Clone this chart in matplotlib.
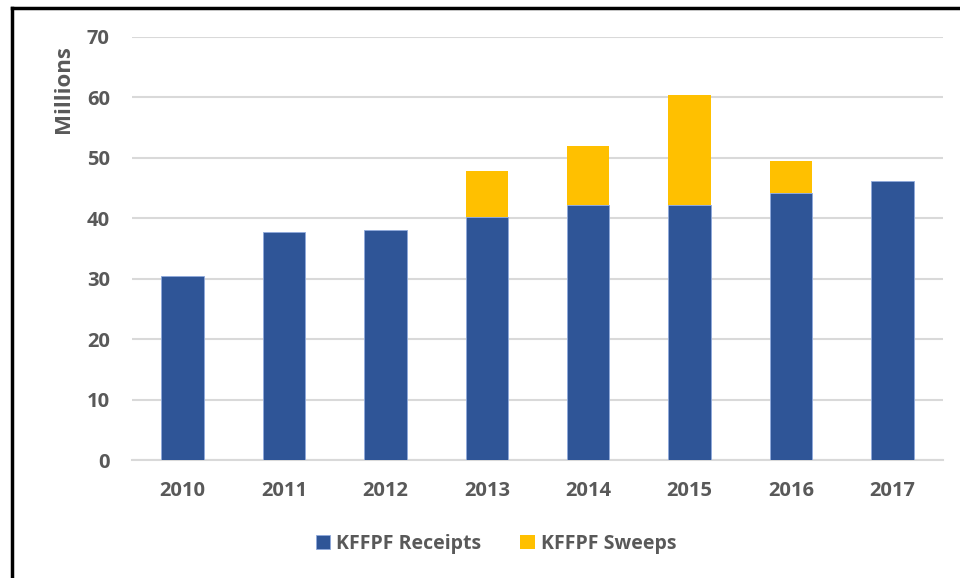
import matplotlib
matplotlib.use("Agg")
import matplotlib.pyplot as plt
from matplotlib.lines import Line2D
import numpy as np

years = ["2010", "2011", "2012", "2013", "2014", "2015", "2016", "2017"]
receipts = [30.4, 37.7, 38.0, 40.2, 42.2, 42.2, 44.2, 46.1]
sweeps = [0.0, 0.0, 0.0, 7.6, 9.7, 18.2, 5.3, 0.0]
yticks = [0, 10, 20, 30, 40, 50, 60, 70]

plt.rcParams['font.family'] = ['Open Sans', 'DejaVu Sans']
txt = '#595959'
blue = '#2F5597'
yellow = '#FFC000'

fig = plt.figure(figsize=(9.6, 5.78), dpi=100)
ax = fig.add_axes([132/960, 1-460/578, (943-132)/960, (460-37)/578])

x = np.arange(len(years))
w = 0.42
ax.bar(x, receipts, width=w, color=blue, edgecolor='#8FAADC', linewidth=0.6, label='KFFPF Receipts', zorder=3)
ax.bar(x, sweeps, width=w, bottom=receipts, color=yellow, linewidth=0, label='KFFPF Sweeps', zorder=3)

ax.set_xlim(-0.5, len(years)-0.5)
ax.set_ylim(0, 70)
ax.set_yticks(yticks)
ax.set_xticks(x)
ax.set_xticklabels(years)
ax.grid(axis='y', color='#d9d9d9', linewidth=1.5, zorder=0)
for s in ['top', 'right', 'left']:
    ax.spines[s].set_visible(False)
ax.spines['bottom'].set_color('#d9d9d9')
ax.spines['bottom'].set_linewidth(1.5)
ax.tick_params(axis='both', length=0, labelsize=14.5, labelcolor=txt)
ax.tick_params(axis='x', pad=15)
ax.tick_params(axis='y', pad=16)
for lab in ax.get_xticklabels() + ax.get_yticklabels():
    lab.set_fontweight('bold')

ax.set_ylabel('Millions', fontsize=16, fontweight='bold', color=txt)
ax.yaxis.set_label_coords(-0.072, 0.876)

leg = fig.legend(loc='center', bbox_to_anchor=(496/960, 1-544/578), ncol=2, frameon=False,
                 prop={'size': 14, 'weight': 'bold'}, handlelength=0.75, handleheight=0.75,
                 columnspacing=2.0, handletextpad=0.3)
for t in leg.get_texts():
    t.set_color(txt)

# outer frame lines (left and top)
fig.add_artist(Line2D([11.5/960, 11.5/960], [0, 1-7.5/578], transform=fig.transFigure, color='black', linewidth=2.5))
fig.add_artist(Line2D([11.5/960, 1], [1-7.5/578, 1-7.5/578], transform=fig.transFigure, color='black', linewidth=2.5))

fig.savefig('out.png', dpi=100)
